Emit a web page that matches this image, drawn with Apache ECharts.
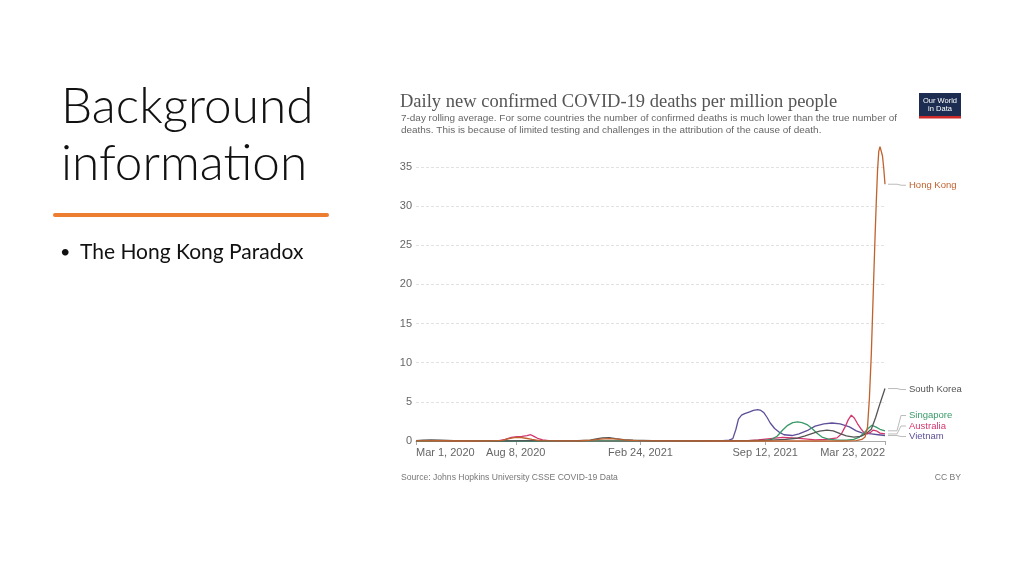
<!DOCTYPE html>
<html>
<head>
<meta charset="utf-8">
<script src="https://cdn.jsdelivr.net/npm/echarts@6/dist/echarts.min.js"></script>
<style>
  html, body { margin: 0; padding: 0; background: #fff; }
  #chart { width: 1024px; height: 576px; }
</style>
</head>
<body>
<div id="chart"></div>
<script>
// x axis tick dates and y axis range
const xTickDates = ["2020-03-01", "2020-08-08", "2021-02-24", "2021-09-12", "2022-03-23"];
const yMin = 0, yMax = 35, yStep = 5;

// 7-day rolling average, deaths per million
const hongKong = [
  ["2020-03-01", 0.01], ["2020-04-01", 0.03], ["2020-05-15", 0], ["2020-07-01", 0.01],
  ["2020-07-18", 0.08], ["2020-07-28", 0.3], ["2020-08-06", 0.42], ["2020-08-15", 0.45],
  ["2020-08-24", 0.35], ["2020-09-03", 0.2], ["2020-09-15", 0.05], ["2020-10-15", 0.02],
  ["2020-11-20", 0.03], ["2020-12-08", 0.12], ["2020-12-22", 0.25], ["2021-01-05", 0.3],
  ["2021-01-18", 0.25], ["2021-02-01", 0.12], ["2021-02-20", 0.04], ["2021-04-01", 0.01],
  ["2021-08-01", 0], ["2022-01-15", 0], ["2022-02-05", 0.05], ["2022-02-14", 0.2],
  ["2022-02-19", 0.5], ["2022-02-23", 1.8], ["2022-02-26", 5.5], ["2022-03-01", 11],
  ["2022-03-03", 16], ["2022-03-05", 21], ["2022-03-07", 26], ["2022-03-09", 30.5],
  ["2022-03-11", 34.5], ["2022-03-13", 37], ["2022-03-15", 37.6], ["2022-03-17", 37.4],
  ["2022-03-19", 36.4], ["2022-03-21", 34.8], ["2022-03-23", 32.8]
];
const southKorea = [
  ["2020-03-01", 0.05], ["2020-03-12", 0.12], ["2020-03-25", 0.15], ["2020-04-10", 0.1],
  ["2020-05-01", 0.03], ["2020-06-15", 0.01], ["2020-08-01", 0.01], ["2020-09-05", 0.06],
  ["2020-10-01", 0.04], ["2020-11-15", 0.03], ["2020-12-05", 0.1], ["2020-12-15", 0.28],
  ["2020-12-25", 0.4], ["2021-01-05", 0.42], ["2021-01-15", 0.3], ["2021-01-28", 0.18],
  ["2021-02-12", 0.1], ["2021-03-15", 0.05], ["2021-06-01", 0.03], ["2021-08-15", 0.06],
  ["2021-09-20", 0.1], ["2021-10-15", 0.2], ["2021-11-01", 0.35], ["2021-11-15", 0.65],
  ["2021-11-28", 1.0], ["2021-12-08", 1.25], ["2021-12-20", 1.4], ["2021-12-30", 1.3],
  ["2022-01-10", 0.95], ["2022-01-20", 0.65], ["2022-02-01", 0.5], ["2022-02-12", 0.6],
  ["2022-02-20", 0.9], ["2022-03-01", 1.5], ["2022-03-08", 3.0], ["2022-03-15", 4.8],
  ["2022-03-23", 6.7]
];
const singapore = [
  ["2020-03-01", 0], ["2020-04-20", 0.03], ["2020-05-15", 0.02], ["2020-07-01", 0],
  ["2021-08-20", 0.02], ["2021-09-10", 0.05], ["2021-09-22", 0.2], ["2021-10-01", 0.6],
  ["2021-10-10", 1.4], ["2021-10-18", 2.0], ["2021-10-26", 2.35], ["2021-11-03", 2.45],
  ["2021-11-10", 2.35], ["2021-11-18", 2.1], ["2021-11-26", 1.6], ["2021-12-04", 1.0],
  ["2021-12-12", 0.5], ["2021-12-22", 0.25], ["2022-01-05", 0.1], ["2022-01-20", 0.1],
  ["2022-02-01", 0.2], ["2022-02-10", 0.5], ["2022-02-17", 1.0], ["2022-02-24", 1.6],
  ["2022-03-02", 2.0], ["2022-03-08", 1.8], ["2022-03-15", 1.5], ["2022-03-23", 1.3]
];
const australia = [
  ["2020-03-01", 0], ["2020-03-25", 0.03], ["2020-04-10", 0.06], ["2020-05-01", 0.02],
  ["2020-06-15", 0], ["2020-07-12", 0.05], ["2020-07-22", 0.2], ["2020-08-01", 0.45],
  ["2020-08-10", 0.55], ["2020-08-18", 0.6], ["2020-08-26", 0.7], ["2020-09-01", 0.8],
  ["2020-09-06", 0.6], ["2020-09-12", 0.35], ["2020-09-20", 0.15], ["2020-09-30", 0.05],
  ["2020-10-20", 0], ["2021-07-20", 0], ["2021-08-15", 0.05], ["2021-09-01", 0.15],
  ["2021-09-20", 0.3], ["2021-10-10", 0.45], ["2021-10-25", 0.4], ["2021-11-10", 0.3],
  ["2021-12-01", 0.15], ["2021-12-20", 0.2], ["2022-01-05", 0.4], ["2022-01-12", 0.9],
  ["2022-01-18", 1.8], ["2022-01-23", 2.7], ["2022-01-28", 3.3], ["2022-02-02", 2.9],
  ["2022-02-07", 2.2], ["2022-02-12", 1.6], ["2022-02-17", 1.1], ["2022-02-22", 0.9],
  ["2022-02-28", 1.1], ["2022-03-04", 1.4], ["2022-03-09", 1.3], ["2022-03-15", 1.0],
  ["2022-03-23", 0.9]
];
const vietnam = [
  ["2020-03-01", 0], ["2020-07-25", 0], ["2020-08-05", 0.02], ["2020-08-20", 0.03],
  ["2020-09-10", 0], ["2021-06-01", 0], ["2021-07-01", 0.02], ["2021-07-16", 0.1],
  ["2021-07-22", 0.3], ["2021-07-27", 1.5], ["2021-07-31", 2.8], ["2021-08-05", 3.3],
  ["2021-08-10", 3.5], ["2021-08-17", 3.7], ["2021-08-24", 3.9], ["2021-08-31", 4.0],
  ["2021-09-05", 3.9], ["2021-09-10", 3.6], ["2021-09-15", 3.0], ["2021-09-20", 2.3],
  ["2021-09-27", 1.6], ["2021-10-05", 1.1], ["2021-10-12", 0.8], ["2021-10-25", 0.7],
  ["2021-11-05", 0.9], ["2021-11-20", 1.4], ["2021-12-01", 1.9], ["2021-12-15", 2.2],
  ["2021-12-28", 2.3], ["2022-01-10", 2.2], ["2022-01-25", 1.8], ["2022-02-05", 1.3],
  ["2022-02-15", 1.0], ["2022-03-01", 0.9], ["2022-03-12", 0.8], ["2022-03-23", 0.7]
];

const countries = [
  { name: "Vietnam", color: "#5e4f98", data: vietnam },
  { name: "Australia", color: "#d3366e", data: australia },
  { name: "Singapore", color: "#3a9a68", data: singapore },
  { name: "South Korea", color: "#555555", data: southKorea },
  { name: "Hong Kong", color: "#c0622e", data: hongKong }
];

const months = ["Jan", "Feb", "Mar", "Apr", "May", "Jun", "Jul", "Aug", "Sep", "Oct", "Nov", "Dec"];
// "YYYY-MM-DD" -> timestamp (UTC)
const ts = (s) => {
  const p = s.split("-").map(Number);
  return Date.UTC(p[0], p[1] - 1, p[2]);
};
const fmtDate = (v) => {
  const d = new Date(v);
  return months[d.getUTCMonth()] + " " + d.getUTCDate() + ", " + d.getUTCFullYear();
};
const xTicks = xTickDates.map(ts);

const sans = "Liberation Sans";
const txt = (text, x, y, size, color, extra) => ({
  type: "text",
  style: Object.assign({ text, x, y, fontSize: size, fontFamily: sans, fill: color, verticalAlign: "middle" }, extra || {})
});

// slide text, chart title block, logo and footer
const staticGraphics = [
  txt("Background", 61, 107, 49.5, "#111", { fontFamily: "Lato", fontWeight: 300 }),
  txt("information", 61, 164, 49.5, "#111", { fontFamily: "Lato", fontWeight: 300 }),
  { type: "rect", shape: { x: 53, y: 213, width: 276, height: 4, r: 2 }, style: { fill: "#ed7d31" } },
  txt("•", 60, 252, 18, "#111", { fontFamily: "Lato" }),
  txt("The Hong Kong Paradox", 80, 252, 21, "#111", { fontFamily: "Lato" }),

  txt("Daily new confirmed COVID-19 deaths per million people", 400, 102, 18.5, "#555", { fontFamily: "Liberation Serif" }),
  txt("7-day rolling average. For some countries the number of confirmed deaths is much lower than the true number of", 401, 118, 9.95, "#666"),
  txt("deaths. This is because of limited testing and challenges in the attribution of the cause of death.", 401, 130, 9.95, "#666"),

  { type: "rect", shape: { x: 919, y: 93, width: 42, height: 25 }, style: { fill: "#1d2d52" } },
  { type: "rect", shape: { x: 919, y: 116, width: 42, height: 2.5 }, style: { fill: "#cf2a2a" } },
  txt("Our World", 940, 100.5, 7.5, "#fff", { align: "center" }),
  txt("in Data", 940, 109, 7.5, "#fff", { align: "center" }),

  txt("Source: Johns Hopkins University CSSE COVID-19 Data", 401, 478, 8.6, "#777"),
  txt("CC BY", 961, 478, 8.6, "#777", { align: "right" })
];

const chart = echarts.init(document.getElementById("chart"));
chart.setOption({
  animation: false,
  backgroundColor: "#fff",
  grid: { left: 416, right: 139, top: 167, bottom: 135 },
  xAxis: {
    type: "value",
    min: xTicks[0],
    max: xTicks[xTicks.length - 1],
    axisLine: { show: true, onZero: false, lineStyle: { color: "#aaa", width: 1 } },
    axisTick: { show: true, customValues: xTicks, length: 4, lineStyle: { color: "#aaa" } },
    axisLabel: {
      customValues: xTicks,
      formatter: (v) => fmtDate(v),
      color: "#666",
      fontSize: 11,
      fontFamily: sans,
      margin: 6,
      alignMinLabel: "left",
      alignMaxLabel: "right"
    },
    splitLine: { show: false }
  },
  yAxis: {
    type: "value",
    min: yMin,
    max: yMax,
    interval: yStep,
    axisLine: { show: false },
    axisTick: { show: false },
    axisLabel: { color: "#666", fontSize: 11, fontFamily: sans, margin: 4 },
    splitLine: { lineStyle: { color: "#e2e2e2", type: [3, 2] } }
  },
  series: countries.map((c) => ({
    name: c.name,
    type: "line",
    data: c.data.map((d) => [ts(d[0]), d[1]]),
    showSymbol: false,
    clip: false,
    color: c.color,
    lineStyle: { width: 1.3 }
  })),
  graphic: { elements: staticGraphics }
});

// end labels with leader lines, stacked so they don't overlap
const ends = countries.map((c) => {
  const last = c.data[c.data.length - 1];
  const p = chart.convertToPixel({ gridIndex: 0 }, [ts(last[0]), last[1]]);
  return { name: c.name, color: c.color, x: p[0], y: p[1] };
});
ends.sort((a, b) => b.y - a.y);
let prev = Infinity;
ends.forEach((e) => {
  e.ly = Math.min(e.y + 1, prev - 10.5);
  prev = e.ly;
});
const labelGraphics = [];
ends.forEach((e) => {
  labelGraphics.push({
    type: "polyline",
    shape: { points: [[e.x + 3, e.y], [e.x + 12, e.y], [e.x + 16, e.ly], [e.x + 21, e.ly]] },
    style: { stroke: "#bbb", lineWidth: 1, fill: null }
  });
  labelGraphics.push(txt(e.name, e.x + 24, e.ly, 9.5, e.color));
});
chart.setOption({ graphic: { elements: staticGraphics.concat(labelGraphics) } });
</script>
</body>
</html>
